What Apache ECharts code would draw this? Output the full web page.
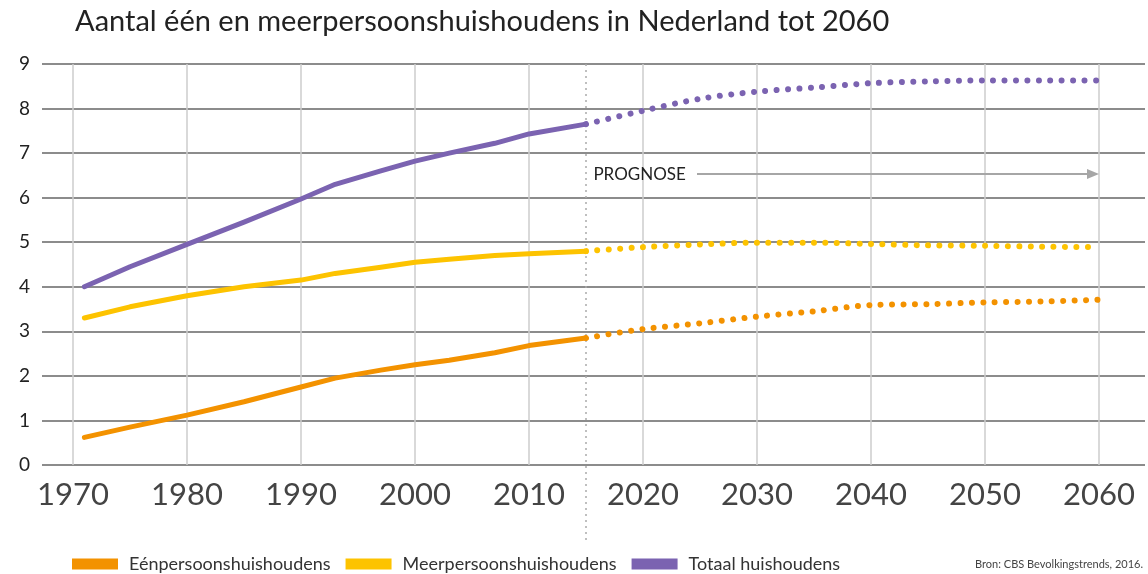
<!DOCTYPE html>
<html><head><meta charset="utf-8">
<script src="https://cdn.jsdelivr.net/npm/echarts@6/dist/echarts.min.js"></script>
<style>html,body{margin:0;padding:0;background:#fff}#c{width:1148px;height:574px}</style>
</head><body><div id="c"></div>
<script>
const histYears = [1971, 1975, 1980, 1985, 1990, 1993, 1997, 2000, 2003, 2007, 2010, 2015];
const eenHist   = [0.62, 0.85, 1.12, 1.42, 1.75, 1.95, 2.13, 2.25, 2.35, 2.52, 2.68, 2.85];
const meerHist  = [3.30, 3.55, 3.80, 4.00, 4.15, 4.30, 4.44, 4.55, 4.62, 4.70, 4.74, 4.80];
const totHist   = [4.00, 4.45, 4.95, 5.45, 5.97, 6.30, 6.60, 6.82, 7.00, 7.22, 7.43, 7.65];

const progYears = [2015, 2020, 2025, 2030, 2035, 2040, 2045, 2050, 2055, 2060];
const eenProg   = [2.85, 3.05, 3.18, 3.33, 3.45, 3.59, 3.61, 3.65, 3.67, 3.71];
const meerProg  = [4.80, 4.89, 4.95, 4.99, 4.99, 4.96, 4.93, 4.92, 4.90, 4.89];
const totProg   = [7.65, 7.95, 8.22, 8.38, 8.47, 8.57, 8.61, 8.63, 8.63, 8.63];

const seriesNames = ['Eénpersoonshuishoudens', 'Meerpersoonshuishoudens', 'Totaal huishoudens'];
const colors = ['#F39200', '#FDC300', '#7B63B1'];
const yTicks = [0, 9, 1];
const xTicks = [1970, 2060, 10];
const prognoseStart = 2015;
const prognoseLabel = 'PROGNOSE';
const titleText = 'Aantal één en meerpersoonshuishoudens in Nederland tot 2060';
const sourceText = 'Bron: CBS Bevolkingstrends, 2016.';

const pair = (xs, ys) => xs.map((x, i) => [x, ys[i]]);
const hist = [eenHist, meerHist, totHist];
const prog = [eenProg, meerProg, totProg];

const FONT = 'Lato, "Noto Sans", sans-serif';
const chart = echarts.init(document.getElementById('c'), null, {renderer: 'canvas'});

const series = [];
for (let i = 0; i < 3; i++) {
  series.push({
    name: seriesNames[i], type: 'line', xAxisIndex: 1, yAxisIndex: 1,
    data: pair(histYears, hist[i]), showSymbol: false, symbol: 'none',
    lineStyle: {color: colors[i], width: 5, cap: 'round', join: 'round'},
    itemStyle: {color: colors[i]}, z: 5
  });
}
for (let i = 0; i < 3; i++) {
  series.push({
    name: seriesNames[i] + ' prognose', type: 'line', xAxisIndex: 1, yAxisIndex: 1,
    data: pair(progYears, prog[i]), showSymbol: false, symbol: 'none', smooth: 0.3,
    lineStyle: {color: colors[i], width: 6, cap: 'round', type: [0.01, 11.4]},
    itemStyle: {color: colors[i]}, z: 5
  });
}

chart.setOption({
  animation: false,
  title: {text: titleText, left: 70, top: 2,
    textStyle: {fontFamily: FONT, fontSize: 29, fontWeight: 'normal', color: '#222'}},
  legend: {
    data: seriesNames, left: 72, top: 555, padding: 0, icon: 'rect', itemWidth: 46, itemHeight: 11, itemGap: 15,
    textStyle: {fontFamily: FONT, fontSize: 18, color: '#333', padding: [0, 0, 0, 6]}
  },
  grid: [
    {left: 42, right: 3, top: 64, bottom: 109},
    {left: 73, right: 49, top: 64, bottom: 109}
  ],
  xAxis: [
    {gridIndex: 0, type: 'value', min: 0, max: 1, show: false},
    {gridIndex: 1, type: 'value', min: xTicks[0], max: xTicks[1], interval: xTicks[2],
     axisLine: {show: false}, axisTick: {show: false},
     axisLabel: {fontFamily: FONT, fontSize: 31, color: '#444', margin: 14, formatter: v => String(v)},
     splitLine: {show: true, lineStyle: {color: '#cccccc', width: 1.5}}}
  ],
  yAxis: [
    {gridIndex: 0, type: 'value', min: yTicks[0], max: yTicks[1], interval: yTicks[2],
     axisLine: {show: false}, axisTick: {show: false},
     axisLabel: {fontFamily: FONT, fontSize: 19, color: '#222', margin: 12},
     splitLine: {show: true, lineStyle: {color: '#8c8c8c', width: 2}}},
    {gridIndex: 1, type: 'value', min: yTicks[0], max: yTicks[1], interval: yTicks[2], show: false,
     splitLine: {show: false}}
  ],
  series: series
});

const px = (x, y) => chart.convertToPixel({xAxisIndex: 1, yAxisIndex: 1}, [x, y]);
const pTop = px(prognoseStart, 9);
const pBot = px(prognoseStart, 0);
const lblPos = px(prognoseStart + 0.65, 6.53);
const arrStart = px(2025, 6.53);
const arrEnd = px(2060, 6.53);
chart.setOption({
  graphic: [
    {type: 'line', shape: {x1: pTop[0], y1: pTop[1], x2: pBot[0], y2: pBot[1] + 75}, z: 1,
     style: {stroke: '#aaaaaa', lineWidth: 1.5, lineDash: [2, 4]}},
    {type: 'text', x: lblPos[0], y: lblPos[1], z: 10,
     style: {text: prognoseLabel, font: '17px ' + FONT, fill: '#222', verticalAlign: 'middle'}},
    {type: 'line', shape: {x1: arrStart[0] - 3, y1: arrStart[1], x2: arrEnd[0] - 10, y2: arrEnd[1]}, z: 10,
     style: {stroke: '#a6a6a6', lineWidth: 2}},
    {type: 'polygon', shape: {points: [[arrEnd[0] - 12, arrEnd[1] - 5], [arrEnd[0], arrEnd[1]], [arrEnd[0] - 12, arrEnd[1] + 5]]}, z: 10,
     style: {fill: '#a6a6a6'}},
    {type: 'text', right: 5, top: 559, z: 10,
     style: {text: sourceText, font: '11px ' + FONT, fill: '#444'}}
  ]
});
</script></body></html>
